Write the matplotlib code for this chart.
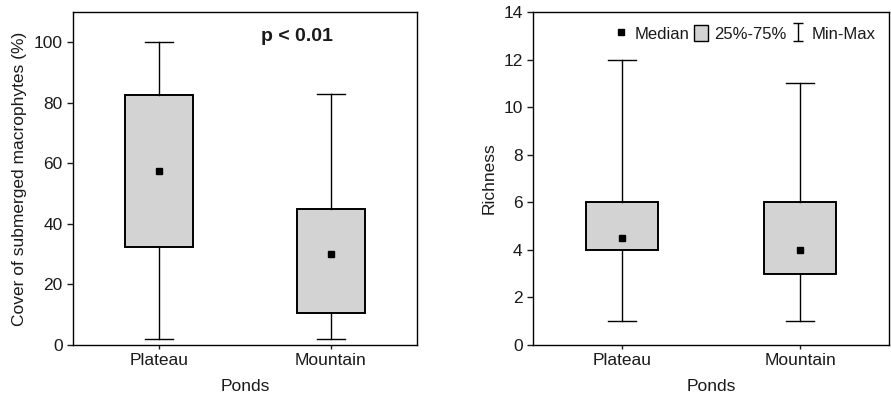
import matplotlib.pyplot as plt
from matplotlib.lines import Line2D
from matplotlib.patches import Patch
from matplotlib.path import Path

plt.rcParams["font.family"] = ["Liberation Sans", "DejaVu Sans"]
plt.rcParams["text.color"] = "#1a1a1a"
plt.rcParams["axes.labelcolor"] = "#1a1a1a"
plt.rcParams["xtick.color"] = "#1a1a1a"
plt.rcParams["ytick.color"] = "#1a1a1a"

# Data
ponds = ["Plateau", "Mountain"]

cover_min = [2, 2]
cover_q1 = [32.5, 10.5]
cover_med = [57.5, 30]
cover_q3 = [82.5, 45]
cover_max = [100, 83]

rich_min = [1, 1]
rich_q1 = [4, 3]
rich_med = [4.5, 4]
rich_q3 = [6, 6]
rich_max = [12, 11]

box_color = "#d3d3d3"


def draw_panel(ax, mins, q1s, meds, q3s, maxs):
    stats = []
    for i, name in enumerate(ponds):
        stats.append({
            "label": name, "whislo": mins[i], "q1": q1s[i], "med": meds[i],
            "q3": q3s[i], "whishi": maxs[i], "mean": meds[i],
        })
    ax.bxp(
        stats, positions=range(len(ponds)), widths=0.4, patch_artist=True,
        showmeans=True, showfliers=False,
        boxprops=dict(facecolor=box_color, edgecolor="black", linewidth=1.4),
        whiskerprops=dict(color="black", linewidth=1),
        capprops=dict(color="black", linewidth=1),
        capwidths=0.16,
        medianprops=dict(linewidth=0),
        meanprops=dict(marker="s", markerfacecolor="black", markeredgecolor="black",
                       markersize=5),
    )
    ax.set_xlim(-0.5, 1.5)
    ax.set_xticks(range(len(ponds)))
    ax.set_xticklabels(ponds)
    ax.set_xlabel("Ponds", labelpad=8, fontsize=12.5)
    ax.tick_params(direction="out", length=4, width=1, labelsize=12.5)
    ax.tick_params(axis="x", length=3, pad=3)
    for s in ax.spines.values():
        s.set_linewidth(1)


fig = plt.figure(figsize=(8.91, 3.96), dpi=100)
ax1 = fig.add_axes([73 / 891, 51 / 396, 344 / 891, 333 / 396])
ax2 = fig.add_axes([533 / 891, 51 / 396, 356 / 891, 333 / 396])

draw_panel(ax1, cover_min, cover_q1, cover_med, cover_q3, cover_max)
ax1.set_ylim(0, 110)
ax1.set_yticks(range(0, 101, 20))
ax1.set_ylabel("Cover of submerged macrophytes (%)", fontsize=12.5, labelpad=5)
ax1.text(0.8, 102, "p < 0.01", fontsize=14, fontweight="bold",
         ha="center", va="center")

draw_panel(ax2, rich_min, rich_q1, rich_med, rich_q3, rich_max)
ax2.set_ylim(0, 14)
ax2.set_yticks(range(0, 15, 2))
ax2.set_ylabel("Richness", fontsize=12.5, labelpad=5)

# Legend handles
ibeam = Path(
    [(-0.5, 1), (0.5, 1), (0, 1), (0, -1), (-0.5, -1), (0.5, -1)],
    [Path.MOVETO, Path.LINETO, Path.MOVETO, Path.LINETO, Path.MOVETO, Path.LINETO],
)
handles = [
    Line2D([], [], linestyle="none", marker="s", color="black", markersize=4.5),
    Patch(facecolor=box_color, edgecolor="black", linewidth=1),
    Line2D([], [], linestyle="none", marker=ibeam, color="black",
           markersize=13, markeredgewidth=1, markerfacecolor="none"),
]
labels = ["Median", "25%-75%", "Min-Max"]
ax2.legend(handles, labels, ncol=3, loc="upper right", frameon=False,
           fontsize=12, handlelength=0.8, handleheight=1.1, handletextpad=0.4,
           columnspacing=0.3, borderaxespad=0.4, bbox_to_anchor=(1.0, 1.0))

fig.savefig("out.png", dpi=100)
